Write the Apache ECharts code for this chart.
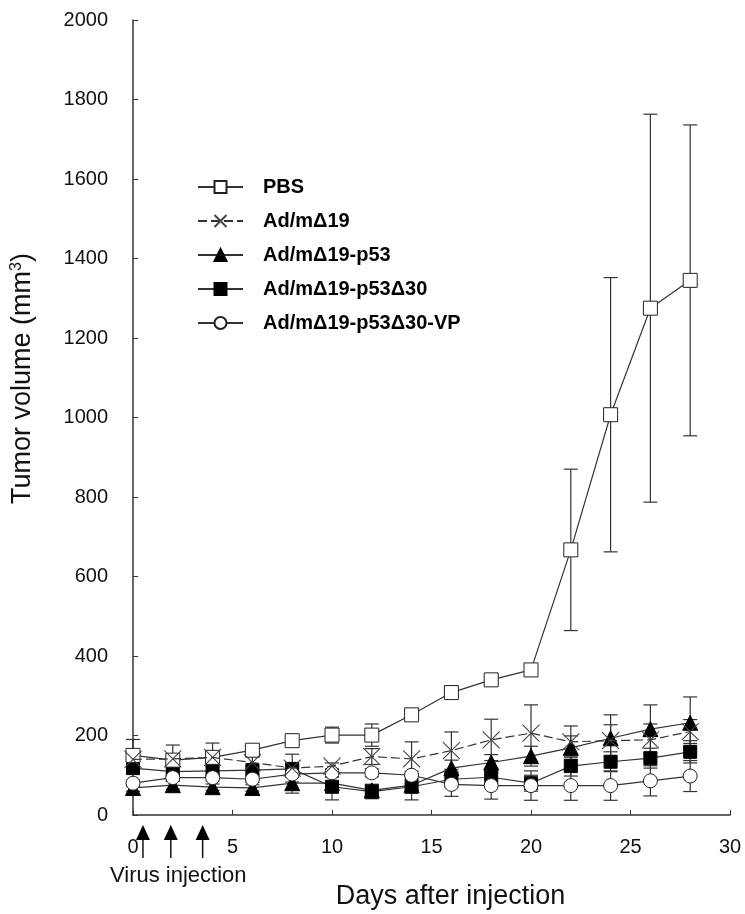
<!DOCTYPE html>
<html>
<head>
<meta charset="utf-8">
<script src="https://cdn.jsdelivr.net/npm/echarts@6/dist/echarts.min.js"></script>
<style>
  html, body { margin: 0; padding: 0; background: #fff; }
  #chart { width: 745px; height: 914px; }
</style>
</head>
<body>
<div id="chart"></div>
<script>
const days = [0, 2, 4, 6, 8, 10, 12, 14, 16, 18, 20, 22, 24, 26, 28]

const seriesNames = ["PBS", "Ad/mΔ19", "Ad/mΔ19-p53", "Ad/mΔ19-p53Δ30", "Ad/mΔ19-p53Δ30-VP"]

const pbs      = [150, 138, 145, 163, 187, 201, 201, 252, 308, 340, 365, 667, 1007, 1275, 1345]
const pbsErr   = [40, 10, 12, 8, 10, 20, 28, 8, 10, 8, 8, 203, 345, 488, 391]
const d19      = [140, 141, 145, 132, 118, 123, 147, 141, 162, 189, 206, 184, 187, 189, 210]
const d19Err   = [20, 35, 36, 15, 35, 8, 20, 43, 47, 52, 71, 40, 40, 40, 30]
const p53      = [68, 75, 70, 68, 80, 80, 62, 75, 118, 132, 148, 169, 193, 216, 232]
const p53Err   = [8, 10, 8, 8, 25, 15, 15, 15, 20, 20, 25, 30, 59, 61, 65]
const d30      = [118, 109, 111, 113, 116, 71, 59, 71, 90, 95, 80, 123, 134, 143, 159]
const d30Err   = [10, 10, 10, 10, 10, 33, 18, 33, 20, 20, 20, 25, 25, 25, 28]
const vp       = [80, 94, 94, 90, 103, 106, 106, 100, 77, 74, 74, 74, 74, 86, 98]
const vpErr    = [8, 8, 8, 8, 8, 10, 10, 10, 30, 34, 37, 37, 37, 38, 39]

const injectionDays = [0.5, 1.9, 3.5]

const LINE = "#333"
const FONT = "Liberation Sans, Arial, sans-serif"

const chart = echarts.init(document.getElementById("chart"))

function pairs(vals) {
  return days.map((d, i) => [d, vals[i]])
}

function errSeries(name, vals, errs) {
  return {
    type: "custom",
    name: name + " err",
    z: 1,
    silent: true,
    data: days.map((d, i) => [d, vals[i] - errs[i], vals[i] + errs[i]]),
    renderItem: (params, api) => {
      const lo = api.coord([api.value(0), api.value(1)])
      const hi = api.coord([api.value(0), api.value(2)])
      const w = 7
      const style = { stroke: LINE, lineWidth: 1.2 }
      return {
        type: "group",
        children: [
          { type: "line", shape: { x1: lo[0], y1: lo[1], x2: hi[0], y2: hi[1] }, style },
          { type: "line", shape: { x1: lo[0] - w, y1: lo[1], x2: lo[0] + w, y2: lo[1] }, style },
          { type: "line", shape: { x1: hi[0] - w, y1: hi[1], x2: hi[0] + w, y2: hi[1] }, style },
        ],
      }
    },
  }
}

function lineSeries(name, vals, opts) {
  return Object.assign({
    type: "line",
    name,
    z: 3,
    data: pairs(vals),
    symbolSize: 14,
    lineStyle: { color: LINE, width: 1.2 },
    itemStyle: { color: "#000", borderColor: "#000", borderWidth: 1 },
    emphasis: { disabled: true },
  }, opts)
}

const crossPath = "path://M0,0L10,10M10,0L0,10"

const option = {
  animation: false,
  backgroundColor: "#fff",
  textStyle: { fontFamily: FONT },
  grid: { left: 133, right: 15, top: 20, bottom: 99, outerBoundsMode: "none", containLabel: false },
  legend: {
    orient: "vertical",
    left: 192,
    top: 172,
    itemWidth: 45,
    itemHeight: 15,
    itemGap: 14,
    data: seriesNames,
    textStyle: { fontSize: 20, fontWeight: "bold", color: "#000", padding: [0, 0, 0, 15] },
    selectedMode: false,
  },
  xAxis: {
    type: "value",
    min: 0, max: 30, interval: 5,
    name: "Days after injection",
    nameLocation: "middle",
    nameGap: 68,
    nameTextStyle: { fontSize: 27, color: "#111", padding: [0, 0, 0, 38] },
    axisLine: { lineStyle: { color: LINE, width: 1.5 } },
    axisTick: { inside: true, length: 5, lineStyle: { color: LINE } },
    axisLabel: { fontSize: 20, color: "#111", margin: 22 },
    splitLine: { show: false },
  },
  yAxis: {
    type: "value",
    min: 0, max: 2000, interval: 200,
    name: "{a|Tumor volume (mm}{s|3}{a|)}",
    nameLocation: "middle",
    nameGap: 96,
    nameTextStyle: {
      padding: [0, 0, 0, 78],
      rich: {
        a: { fontSize: 27, color: "#111", fontFamily: FONT },
        s: { fontSize: 16, color: "#111", fontFamily: FONT, verticalAlign: "top", padding: [0, 0, 12, 0] },
      },
    },
    axisLine: { show: true, lineStyle: { color: LINE, width: 1.5 } },
    axisTick: { show: true, inside: true, length: 5, lineStyle: { color: LINE } },
    axisLabel: { fontSize: 20, color: "#111", margin: 25, formatter: v => String(v) },
    splitLine: { show: false },
  },
  graphic: [
    {
      type: "text",
      left: 110,
      top: 865,
      style: { text: "Virus injection", font: "22px " + FONT, fill: "#111" },
    },
  ],
  series: [
    errSeries("PBS", pbs, pbsErr),
    errSeries("d19", d19, d19Err),
    errSeries("p53", p53, p53Err),
    errSeries("d30", d30, d30Err),
    errSeries("vp", vp, vpErr),
    lineSeries(seriesNames[0], pbs, {
      symbol: "rect",
      itemStyle: { color: "#fff", borderColor: "#222", borderWidth: 1 },
      z: 4,
    }),
    lineSeries(seriesNames[1], d19, {
      symbol: crossPath,
      symbolSize: 17,
      lineStyle: { color: LINE, width: 1.2, type: [9, 4] },
      itemStyle: { color: "rgba(0,0,0,0)", borderColor: "#444", borderWidth: 1.1 },
      z: 5,
    }),
    lineSeries(seriesNames[2], p53, { symbol: "triangle", symbolSize: 15, z: 3 }),
    lineSeries(seriesNames[3], d30, { symbol: "rect", symbolSize: 13, z: 3 }),
    lineSeries(seriesNames[4], vp, {
      symbol: "circle",
      itemStyle: { color: "#fff", borderColor: "#222", borderWidth: 1 },
      z: 4,
    }),
    {
      type: "custom",
      name: "injection",
      silent: true,
      clip: false,
      data: injectionDays.map(d => [d, 0]),
      renderItem: (params, api) => {
        const p = api.coord([api.value(0), 0])
        const x = p[0], y = p[1]
        return {
          type: "group",
          children: [
            { type: "line", shape: { x1: x, y1: y + 22, x2: x, y2: y + 43 }, style: { stroke: "#111", lineWidth: 1.5 } },
            { type: "polygon", shape: { points: [[x, y + 10], [x - 7, y + 25], [x + 7, y + 25]] }, style: { fill: "#000" } },
          ],
        }
      },
    },
  ],
}

chart.setOption(option)
window.addEventListener("resize", () => chart.resize())
</script>
</body>
</html>
